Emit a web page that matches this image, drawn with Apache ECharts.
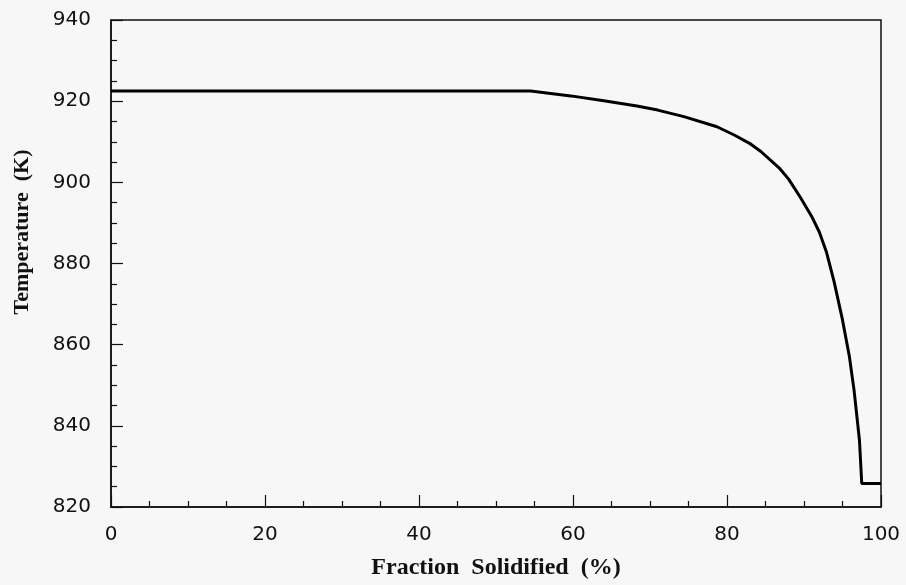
<!DOCTYPE html>
<html>
<head>
<meta charset="utf-8">
<script src="https://cdn.jsdelivr.net/npm/echarts@6/dist/echarts.min.js"></script>
<style>
  html, body { margin: 0; padding: 0; background: #f7f7f7; }
  #chart { width: 906px; height: 585px; }
</style>
</head>
<body>
<div id="chart"></div>
<script>
// Solidification path: temperature versus fraction solidified
var fractionSolidified = [0, 54.5, 59.7, 64.0, 68.3, 71.0, 74.4, 78.7, 81.0, 83.1, 84.4, 86.9, 88.0, 89.5, 91.0, 92.0, 92.9, 93.9, 95.0, 95.9, 96.5, 97.2, 97.5, 100];
var temperatureK = [922.5, 922.5, 921.3, 920.1, 918.8, 917.8, 916.2, 913.7, 911.6, 909.4, 907.6, 903.3, 900.8, 896.4, 891.6, 887.7, 882.9, 875.6, 866.1, 857.0, 848.8, 836.5, 825.8, 825.8];

var xTicks = [0, 20, 40, 60, 80, 100];
var yTicks = [820, 840, 860, 880, 900, 920, 940];

var points = fractionSolidified.map(function (x, i) { return [x, temperatureK[i]]; });

var tickFont = { color: '#111', fontFamily: 'DejaVu Sans, Verdana, sans-serif', fontSize: 20 };
var titleFont = 'Liberation Serif, Times New Roman, serif';

var chart = echarts.init(document.getElementById('chart'), null, { renderer: 'canvas' });
chart.setOption({
  backgroundColor: '#f7f7f7',
  animation: false,
  grid: {
    left: 111, right: 25, top: 20, bottom: 78,
    show: true, borderColor: '#111', borderWidth: 1.5, backgroundColor: 'transparent'
  },
  xAxis: {
    type: 'value',
    min: xTicks[0], max: xTicks[xTicks.length - 1], interval: 20,
    name: 'Fraction  Solidified  (%)',
    nameLocation: 'middle',
    nameGap: 49,
    nameTextStyle: { color: '#111', fontFamily: titleFont, fontWeight: 'bold', fontSize: 24 },
    axisLine: { show: true, onZero: false, lineStyle: { color: '#111', width: 1.5 } },
    axisTick: { show: true, inside: true, length: 12, lineStyle: { color: '#111', width: 1.2 } },
    minorTick: { show: true, splitNumber: 4, length: 6, lineStyle: { color: '#111', width: 1.2 } },
    axisLabel: Object.assign({ margin: 18 }, tickFont),
    splitLine: { show: false }
  },
  yAxis: {
    type: 'value',
    min: yTicks[0], max: yTicks[yTicks.length - 1], interval: 20,
    axisLine: { show: true, onZero: false, lineStyle: { color: '#111', width: 1.5 } },
    axisTick: { show: true, inside: true, length: 12, lineStyle: { color: '#111', width: 1.2 } },
    minorTick: { show: true, splitNumber: 4, length: 6, lineStyle: { color: '#111', width: 1.2 } },
    axisLabel: Object.assign({ margin: 20 }, tickFont),
    splitLine: { show: false }
  },
  graphic: [{
    type: 'text',
    x: 22, y: 232,
    rotation: Math.PI / 2,
    style: {
      text: 'Temperature  (K)',
      fill: '#111',
      font: 'bold 22px "Liberation Serif", "Times New Roman", serif',
      textAlign: 'center',
      textVerticalAlign: 'middle'
    }
  }],
  series: [{
    type: 'line',
    data: points,
    showSymbol: false,
    smooth: false,
    lineStyle: { color: '#000', width: 3 }
  }]
});
</script>
</body>
</html>
